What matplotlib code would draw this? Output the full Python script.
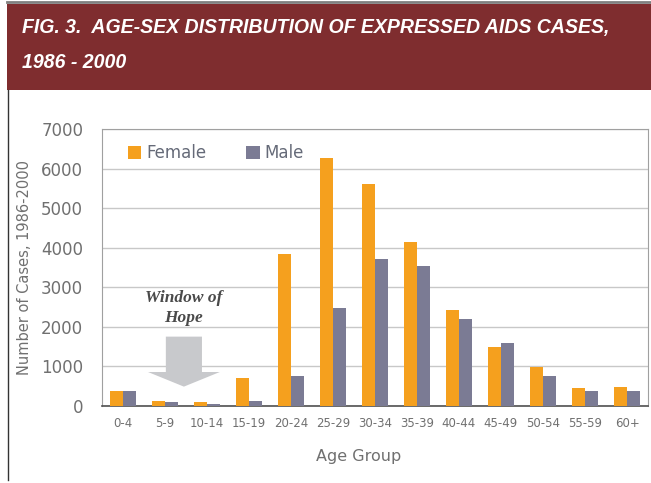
import numpy as np
import matplotlib
matplotlib.use('Agg')
import matplotlib.pyplot as plt
from matplotlib.patches import Rectangle, FancyArrow
from matplotlib.lines import Line2D

# Datos
grupos = ['0-4', '5-9', '10-14', '15-19', '20-24', '25-29', '30-34',
          '35-39', '40-44', '45-49', '50-54', '55-59', '60+']
mujeres = [370, 125, 95, 700, 3850, 6270, 5620, 4140, 2430, 1500, 995, 465, 490]
hombres = [370, 90, 60, 125, 770, 2470, 3710, 3540, 2200, 1600, 770, 380, 380]
yticks = [0, 1000, 2000, 3000, 4000, 5000, 6000, 7000]

COL_F = '#f5a01e'
COL_M = '#7b7b94'
ROJO = '#7f2d2f'
GRIS_TXT = '#707070'

fig = plt.figure(figsize=(6.51, 4.83), dpi=100)
fig.patch.set_facecolor('white')

# Encabezado rojo
fig.patches.append(Rectangle((7 / 651, 1 - 90 / 483), 1 - 7 / 651, 86 / 483,
                             transform=fig.transFigure, facecolor=ROJO,
                             edgecolor='none', zorder=0))
# borde gris superior y linea izquierda
fig.add_artist(Line2D([7 / 651, 1], [1 - 1.5 / 483, 1 - 1.5 / 483],
                      transform=fig.transFigure, color='#808080', lw=2))
fig.add_artist(Line2D([7.5 / 651, 7.5 / 651], [1 - 90 / 483, 3 / 483],
                      transform=fig.transFigure, color='#333333', lw=1))

titulo_font = dict(family=['Liberation Sans', 'DejaVu Sans'],
                   style='italic', weight='bold', color='white', size=14)
t1 = fig.text(22 / 651, 1 - 28 / 483,
              'FIG. 3.  AGE-SEX DISTRIBUTION OF EXPRESSED AIDS CASES,',
              va='center', ha='left', **titulo_font)
t2 = fig.text(22 / 651, 1 - 62 / 483, '1986 - 2000', va='center', ha='left',
              **titulo_font)

# ajustar el tamaño del titulo al ancho del original (~591 px)
fig.canvas.draw()
ancho = t1.get_window_extent().width
tam = 14 * 591 / ancho
t1.set_size(tam)
t2.set_size(tam)

ax = fig.add_axes([102 / 651, 77 / 483, 546 / 651, 276.7 / 483])

x = np.arange(len(grupos))
w = 0.32
ax.bar(x - w / 2, mujeres, w, color=COL_F, label='Female', zorder=3)
ax.bar(x + w / 2, hombres, w, color=COL_M, label='Male', zorder=3)

ax.set_xlim(-0.5, len(grupos) - 0.5)
ax.set_ylim(0, 7000)
ax.set_yticks(yticks)
ax.set_yticklabels([str(v) for v in yticks])
ax.set_xticks(x)
ax.set_xticklabels(grupos)
ax.tick_params(axis='y', length=0, pad=13.5, labelsize=12, labelcolor=GRIS_TXT)
ax.tick_params(axis='x', length=0, pad=8, labelsize=8.5, labelcolor=GRIS_TXT)
ax.grid(axis='y', color='#c8c8c8', lw=1, zorder=0)
for s in ['top', 'right', 'left']:
    ax.spines[s].set_color('#a0a0a0')
ax.spines['bottom'].set_color('#505050')
ax.spines['bottom'].set_linewidth(1.2)

ax.set_ylabel('Number of Cases, 1986-2000', fontsize=10.5, color=GRIS_TXT)
ax.yaxis.set_label_coords(-0.128, 0.5)
ax.set_xlabel('Age Group', fontsize=11.5, color=GRIS_TXT)
ax.xaxis.set_label_coords(0.47, -0.155)

leg = ax.legend(loc='upper left', ncol=2, frameon=False, fontsize=12,
                handlelength=0.8, handleheight=0.8, handletextpad=0.3,
                columnspacing=2.4, bbox_to_anchor=(0.02, 1.0))
for t in leg.get_texts():
    t.set_color('#656a78')

# Flecha "Window of Hope"
flecha = FancyArrow(1.45, 1755, 0, -1265, width=0.86, head_width=1.71,
                    head_length=370, length_includes_head=True,
                    facecolor='#c8c9cc', edgecolor='none', zorder=4)
ax.add_patch(flecha)
ax.text(1.45, 2730, 'Window of', ha='center', va='center',
        family=['Liberation Serif', 'DejaVu Serif'], style='italic',
        weight='bold', size=12.5, color='#4a4a4a', zorder=5)
ax.text(1.45, 2230, 'Hope', ha='center', va='center',
        family=['Liberation Serif', 'DejaVu Serif'], style='italic',
        weight='bold', size=12.5, color='#4a4a4a', zorder=5)

fig.savefig('out.png', dpi=100)
